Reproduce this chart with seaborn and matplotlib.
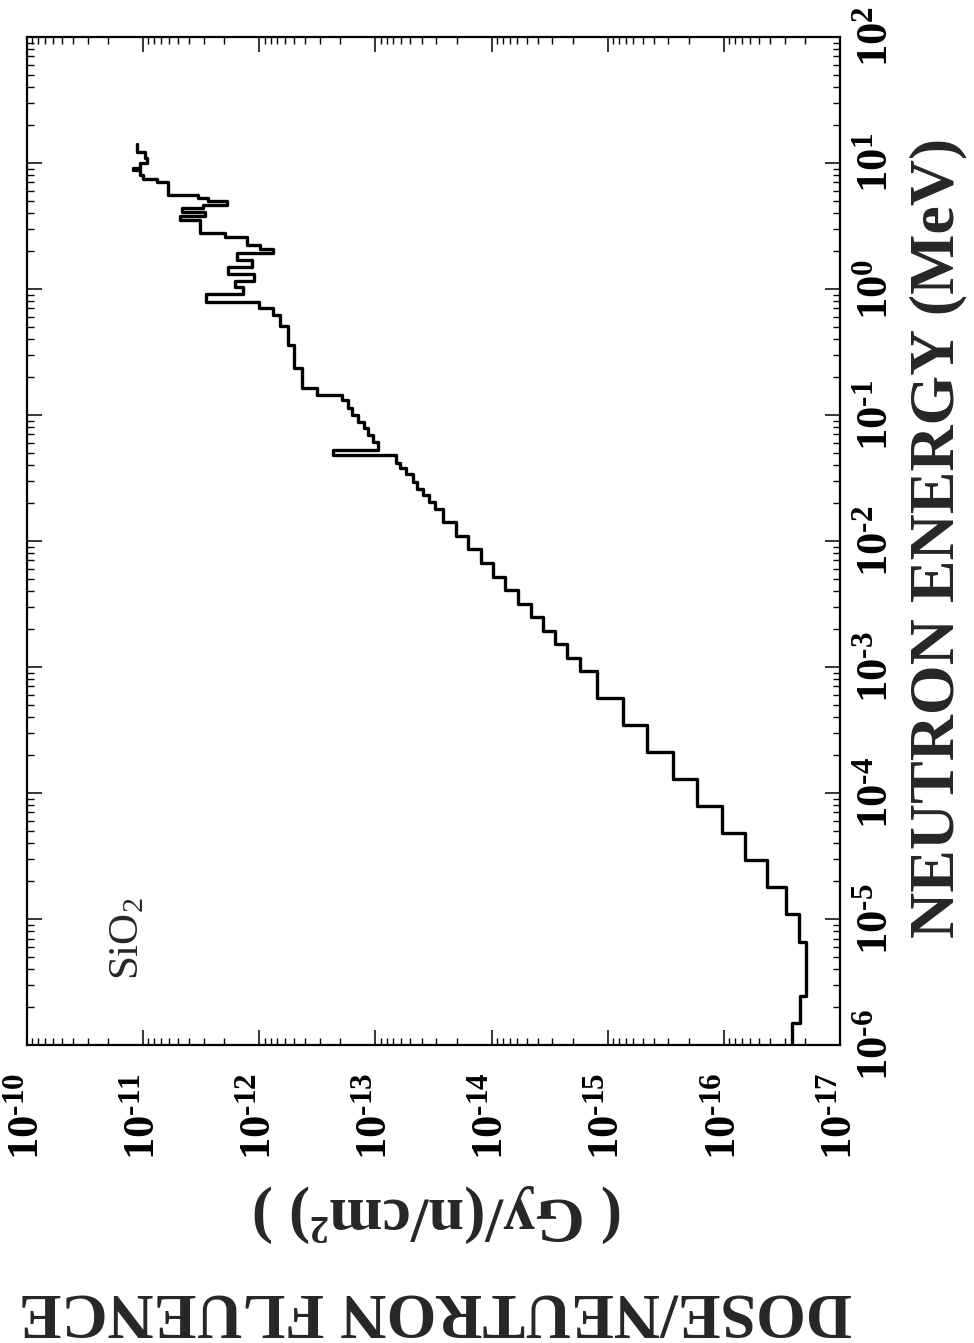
import numpy as np
import seaborn as sns
import matplotlib
matplotlib.use("Agg")
import matplotlib.pyplot as plt
from matplotlib.ticker import LogLocator, NullFormatter

# energy bin edges (MeV), low to high
energy_edges = [1.0e-6, 1.50e-6, 2.45e-6, 6.56e-6, 1.10e-5, 1.80e-5, 2.94e-5, 4.81e-5,
                7.89e-5, 1.29e-4, 2.11e-4, 3.47e-4, 5.68e-4, 9.29e-4, 1.18e-3, 1.52e-3,
                1.93e-3, 2.49e-3, 3.16e-3, 4.08e-3, 5.18e-3, 6.68e-3, 8.65e-3, 1.10e-2,
                1.42e-2, 1.80e-2, 2.04e-2, 2.32e-2, 2.59e-2, 2.94e-2, 3.40e-2, 3.79e-2,
                4.16e-2, 4.82e-2, 5.27e-2, 6.11e-2, 6.93e-2, 7.88e-2, 8.79e-2, 0.100,
                0.114, 0.131, 0.144, 0.164, 0.236, 0.360, 0.508, 0.622, 0.706, 0.789,
                0.912, 1.04, 1.16, 1.32, 1.50, 1.70, 1.93, 2.08, 2.23, 2.59, 2.78, 3.53,
                3.80, 4.08, 4.39, 4.64, 4.99, 5.27, 5.57, 7.06, 7.46, 8.03, 8.79, 9.12,
                10.0, 11.0, 12.2, 14.2]

# dose per unit fluence in each bin (Gy/(n/cm^2))
dose = [2.58e-17, 2.20e-17, 1.95e-17, 2.24e-17, 2.90e-17, 4.23e-17, 6.54e-17, 1.03e-16,
        1.69e-16, 2.73e-16, 4.57e-16, 7.36e-16, 1.23e-15, 1.73e-15, 2.23e-15, 2.83e-15,
        3.60e-15, 4.56e-15, 5.90e-15, 7.64e-15, 9.68e-15, 1.23e-14, 1.59e-14, 2.02e-14,
        2.61e-14, 3.06e-14, 3.45e-14, 3.88e-14, 4.38e-14, 4.73e-14, 5.44e-14, 6.12e-14,
        6.64e-14, 2.31e-13, 9.48e-14, 1.05e-13, 1.16e-13, 1.25e-13, 1.41e-13, 1.59e-13,
        1.72e-13, 1.94e-13, 3.18e-13, 4.28e-13, 5.01e-13, 5.65e-13, 6.62e-13, 7.60e-13,
        1.00e-12, 2.87e-12, 1.38e-12, 1.62e-12, 1.11e-12, 1.86e-12, 1.15e-12, 1.55e-12,
        7.60e-13, 9.84e-13, 1.27e-12, 1.97e-12, 3.24e-12, 4.81e-12, 2.93e-12, 4.62e-12,
        3.05e-12, 1.89e-12, 2.76e-12, 3.37e-12, 6.10e-12, 7.59e-12, 1.00e-11, 1.06e-11,
        1.22e-11, 1.06e-11, 9.25e-12, 9.63e-12, 1.13e-11]

dose_ticks = [1e-10, 1e-11, 1e-12, 1e-13, 1e-14, 1e-15, 1e-16, 1e-17]
dose_tick_labels = [r'$10^{\text{-10}}$', r'$10^{\text{-11}}$', r'$10^{\text{-12}}$',
                    r'$10^{\text{-13}}$', r'$10^{\text{-14}}$', r'$10^{\text{-15}}$',
                    r'$10^{\text{-16}}$', r'$10^{\text{-17}}$']
energy_ticks = [1e-6, 1e-5, 1e-4, 1e-3, 1e-2, 1e-1, 1e0, 1e1, 1e2]
energy_tick_labels = [r'$10^{\text{-6}}$', r'$10^{\text{-5}}$', r'$10^{\text{-4}}$',
                      r'$10^{\text{-3}}$', r'$10^{\text{-2}}$', r'$10^{\text{-1}}$',
                      r'$10^{0}$', r'$10^{1}$', r'$10^{2}$']

sns.set_style("ticks")
plt.rcParams['font.family'] = ['Liberation Serif', 'DejaVu Serif']
plt.rcParams['font.weight'] = 'bold'
plt.rcParams['mathtext.fontset'] = 'custom'
plt.rcParams['mathtext.rm'] = 'Liberation Serif:bold'
plt.rcParams['mathtext.bf'] = 'Liberation Serif:bold'
plt.rcParams['mathtext.it'] = 'Liberation Serif:bold:italic'

fig = plt.figure(figsize=(9.74, 13.43), dpi=100)
ax = fig.add_axes([0.0277, 0.2219, 0.8347, 0.7506])
ax.set_xscale('log')
ax.set_yscale('log')

# the figure is drawn turned on its side: dose across, energy up
xs = np.append(dose, dose[-1])
ys = np.array(energy_edges)
sns.lineplot(x=xs, y=ys, sort=False, estimator=None, drawstyle='steps-pre',
             color='black', lw=2.4, ax=ax)

ax.set_xlim(1e-10, 1e-17)
ax.set_ylim(1e-6, 1e2)

ax.set_xticks(dose_ticks)
ax.set_xticklabels(dose_tick_labels, rotation=90, ha='center', va='top')
ax.set_yticks(energy_ticks)
ax.set_yticklabels(energy_tick_labels, rotation=90, ha='left', va='center')
ax.xaxis.set_minor_locator(LogLocator(base=10, subs=np.arange(2, 10), numticks=30))
ax.yaxis.set_minor_locator(LogLocator(base=10, subs=np.arange(2, 10), numticks=30))
ax.xaxis.set_minor_formatter(NullFormatter())
ax.yaxis.set_minor_formatter(NullFormatter())

ax.tick_params(which='both', direction='in', top=True, bottom=True, left=True, right=True,
               labelleft=False, labelright=True, colors='black')
ax.tick_params(which='major', length=11, width=1.1, labelsize=32)
ax.tick_params(which='minor', length=5, width=1.0)
ax.tick_params(axis='x', which='major', pad=20)
ax.tick_params(axis='y', which='major', pad=12)
for s in ax.spines.values():
    s.set_linewidth(1.6)
    s.set_color('black')

ax.set_xlabel('')
ax.set_ylabel('')

fig.text(0.963, 0.5994, 'NEUTRON ENERGY (MeV)', rotation=90, ha='center', va='center',
         fontsize=46, fontweight='bold')
fig.text(0.4487, 0.0968, '( Gy/(n/cm²) )', rotation=180, ha='center', va='center',
         fontsize=46, fontweight='bold')
fig.text(0.4466, 0.0246, 'DOSE/NEUTRON FLUENCE', rotation=180, ha='center', va='center',
         fontsize=46, fontweight='bold')
ax.text(0.124, 0.106, r'SiO$_{\mathregular{2}}$', rotation=90, ha='center', va='center',
        fontsize=31, fontweight='normal', transform=ax.transAxes)

fig.savefig('out.png', dpi=100)
